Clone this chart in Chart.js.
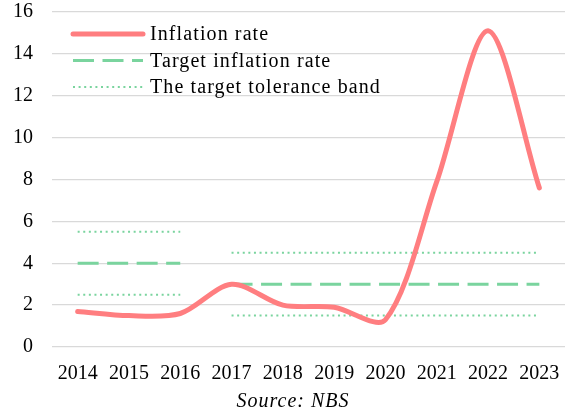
<!DOCTYPE html>
<html>
    <head>
        <title>Inflation</title>
        <script src="https://cdn.jsdelivr.net/npm/chart.js@4"></script>
        <style>
            body { margin: 0; background: #fff; }
            #wrap { width: 571px; height: 414px; }
        </style>
    </head>
    <body>
        <div id="wrap"><canvas id="chart1"></canvas></div>

        <script>
            const years = ['2014', '2015', '2016', '2017', '2018', '2019', '2020', '2021', '2022', '2023']
            const inflation = [1.7, 1.5, 1.6, 3.0, 2.0, 1.9, 1.3, 7.9, 15.1, 7.6]
            const target = [4, 4, 4, 3, 3, 3, 3, 3, 3, 3]
            const bandLow = [2.5, 2.5, 2.5, 1.5, 1.5, 1.5, 1.5, 1.5, 1.5, 1.5]
            const bandHigh = [5.5, 5.5, 5.5, 4.5, 4.5, 4.5, 4.5, 4.5, 4.5, 4.5]
            const yTicks = [0, 2, 4, 6, 8, 10, 12, 14, 16]
            const regimeStart = 3 // new target from 2017

            const red = 'rgb(255, 126, 128)'
            const green = 'rgb(122, 212, 158)'
            const font = 'Liberation Serif'
            const ink = '#000'

            // split a series into the old and the new target regime
            const part = (arr, from, to) => arr.map((v, i) => (i >= from && i < to ? v : null))
            const before = arr => part(arr, 0, regimeStart)
            const after = arr => part(arr, regimeStart, arr.length)

            const dashed = { borderColor: green, borderWidth: 3, borderDash: [21, 8.5], pointRadius: 0, tension: 0 }
            const dotted = { borderColor: green, borderWidth: 2, borderDash: [2, 3.6], pointRadius: 0, tension: 0 }

            const datasets = [
                { label: 'Inflation rate', data: inflation, borderColor: red, borderWidth: 5, pointRadius: 0, tension: 0.3, borderCapStyle: 'round' },
                { label: 'Target inflation rate', data: before(target), ...dashed },
                { label: 'Target inflation rate', data: after(target), ...dashed },
                { label: 'The target tolerance band', data: before(bandHigh), ...dotted },
                { label: 'The target tolerance band', data: before(bandLow), ...dotted },
                { label: 'The target tolerance band', data: after(bandHigh), ...dotted },
                { label: 'The target tolerance band', data: after(bandLow), ...dotted },
            ]

            // legend drawn inside the plot, top left, plus the source note
            const insideLegend = {
                id: 'insideLegend',
                afterDraw(chart) {
                    const ctx = chart.ctx
                    const rows = [datasets[0], datasets[1], datasets[3]]
                    ctx.save()
                    rows.forEach((ds, i) => {
                        const y = 34 + i * 26.5
                        ctx.beginPath()
                        ctx.strokeStyle = ds.borderColor
                        ctx.lineWidth = ds.borderWidth
                        ctx.setLineDash(ds.borderDash || [])
                        ctx.lineCap = ds.borderCapStyle || 'butt'
                        ctx.moveTo(73, y)
                        ctx.lineTo(143, y)
                        ctx.stroke()
                        ctx.setLineDash([])
                        ctx.fillStyle = ink
                        ctx.font = '20px "' + font + '"'
                        ctx.letterSpacing = '1.1px'
                        ctx.textBaseline = 'middle'
                        ctx.fillText(ds.label, 150, y + 1)
                    })
                    ctx.font = 'italic 20px "' + font + '"'
                    ctx.letterSpacing = '1px'
                    ctx.textAlign = 'center'
                    ctx.textBaseline = 'middle'
                    ctx.fillText('Source: NBS', 293, 402)
                    ctx.restore()
                },
            }

            const chart = new Chart(document.getElementById('chart1'), {
                type: 'line',
                data: { labels: years, datasets },
                options: {
                    responsive: true,
                    maintainAspectRatio: false,
                    animation: false,
                    layout: { autoPadding: false, padding: { top: 3, right: 6, bottom: 32, left: 0 } },
                    plugins: { legend: { display: false }, tooltip: { enabled: false } },
                    scales: {
                        x: {
                            offset: true,
                            grid: { display: false },
                            border: { display: false },
                            ticks: { color: ink, font: { family: font, size: 20 }, padding: 7, maxRotation: 0 },
                            afterFit: s => { s.height = 35 },
                        },
                        y: {
                            min: 0,
                            max: 16,
                            afterBuildTicks: s => { s.ticks = yTicks.map(v => ({ value: v })) },
                            // invisible tick marks keep the labels clear of the grid
                            grid: { color: '#d9d9d9', lineWidth: 1.3, drawTicks: true, tickLength: 19, tickColor: 'rgba(0,0,0,0)' },
                            border: { display: false },
                            ticks: { color: ink, font: { family: font, size: 20 }, padding: 0 },
                            afterFit: s => { s.width = 52 },
                        },
                    },
                },
                plugins: [insideLegend],
            })
        </script>
    </body>
</html>
